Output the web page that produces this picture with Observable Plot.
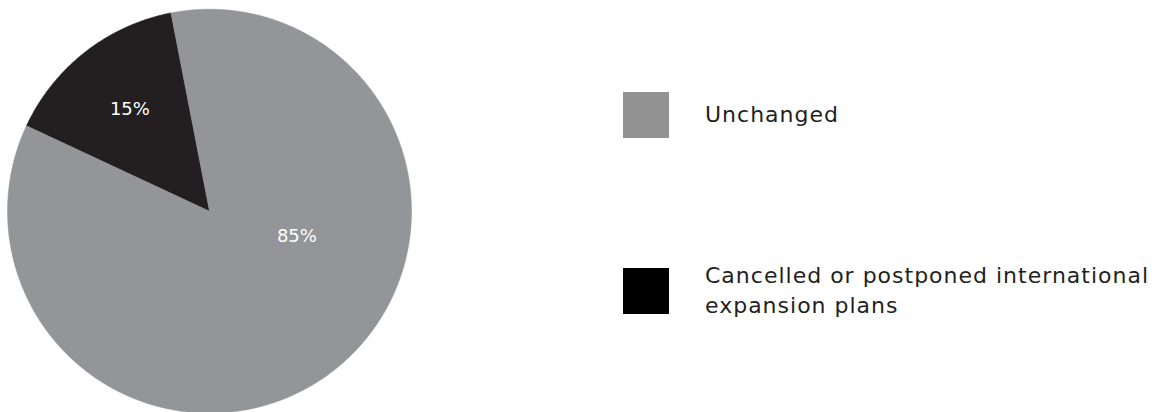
<!DOCTYPE html>
<html>
<head>
<meta charset="utf-8">
<script src="https://cdn.jsdelivr.net/npm/d3@7"></script>
<script src="https://cdn.jsdelivr.net/npm/@observablehq/plot@0.6"></script>
<style>
  html, body { margin: 0; padding: 0; background: #ffffff; }
  #wrap { position: relative; width: 1155px; height: 412px; overflow: hidden; font-family: "DejaVu Sans", sans-serif; }
  #chart svg { display: block; }
  .legend-item { position: absolute; left: 623px; display: flex; align-items: center; }
  .swatch { width: 46px; height: 46px; flex: none; }
  .legend-label { margin-left: 36px; font-size: 22px; line-height: 30px; color: #231f20; letter-spacing: 1px; white-space: nowrap; }
</style>
</head>
<body>
<div id="wrap">
  <div id="chart"></div>
</div>
<script>
// ---- data ----
const categories = ["Cancelled or postponed international expansion plans", "Unchanged"];
const values = [15, 85];
const valueLabels = ["15%", "85%"];
const legendLabels = ["Unchanged", "Cancelled or postponed international\nexpansion plans"];
const legendOrder = ["Unchanged", "Cancelled or postponed international expansion plans"];

// ---- styles / layout ----
const sliceColors = ["#231f20", "#939598"];
const swatchColors = {"Unchanged": "#929292", "Cancelled or postponed international expansion plans": "#000000"};
const W = 1155, H = 412;
const cx = 209, cy = 210.7, R = 202;           // pie centre & radius in pixels
const pieStartDeg = -65;                        // start angle (clockwise from 12 o'clock)
const labelPlacement = [ {deg: null, r: 0.64}, {deg: 106, r: 0.45} ]; // null => slice middle

const arcs = d3.pie().sort(null).startAngle(pieStartDeg * Math.PI / 180)
  .endAngle(pieStartDeg * Math.PI / 180 + 2 * Math.PI)(values);

// polygon outlines for each slice in unit coordinates (y up)
const slicePoints = arcs.map((a, i) => {
  const pts = [{x: 0, y: 0}];
  const n = Math.max(2, Math.ceil((a.endAngle - a.startAngle) / (Math.PI / 360)));
  for (let k = 0; k <= n; k++) {
    const t = a.startAngle + (a.endAngle - a.startAngle) * k / n;
    pts.push({x: Math.sin(t), y: Math.cos(t)});
  }
  pts.push({x: 0, y: 0});
  return pts;
});

const labelData = arcs.map((a, i) => {
  const p = labelPlacement[i];
  const t = p.deg == null ? (a.startAngle + a.endAngle) / 2 : p.deg * Math.PI / 180;
  return {x: p.r * Math.sin(t), y: p.r * Math.cos(t), text: valueLabels[i]};
});

const plot = Plot.plot({
  width: W, height: H,
  margin: 0,
  x: {domain: [-cx / R, (W - cx) / R], range: [0, W], axis: null},
  y: {domain: [-(H - cy) / R, cy / R], range: [H, 0], axis: null},
  style: {background: "transparent", fontFamily: "'DejaVu Sans', sans-serif"},
  marks: [
    ...slicePoints.map((pts, i) => Plot.line(pts, {x: "x", y: "y", fill: sliceColors[i], stroke: sliceColors[i], strokeWidth: 0.5, curve: "linear"})),
    Plot.text(labelData, {x: "x", y: "y", text: "text", fill: "#ffffff", fontSize: 18, textAnchor: "middle"})
  ]
});
document.getElementById("chart").appendChild(plot);

// ---- legend (HTML, to the right of the pie) ----
const legendCenters = {"Unchanged": 115, "Cancelled or postponed international expansion plans": 291};
const wrap = document.getElementById("wrap");
legendOrder.forEach((key, i) => {
  const item = document.createElement("div");
  item.className = "legend-item";
  const sw = document.createElement("div");
  sw.className = "swatch";
  sw.style.background = swatchColors[key];
  const lab = document.createElement("div");
  lab.className = "legend-label";
  lab.innerHTML = legendLabels[i].split("\n").join("<br>");
  item.appendChild(sw);
  item.appendChild(lab);
  wrap.appendChild(item);
  const h = item.getBoundingClientRect().height;
  item.style.top = (legendCenters[key] - h / 2) + "px";
});
</script>
</body>
</html>
